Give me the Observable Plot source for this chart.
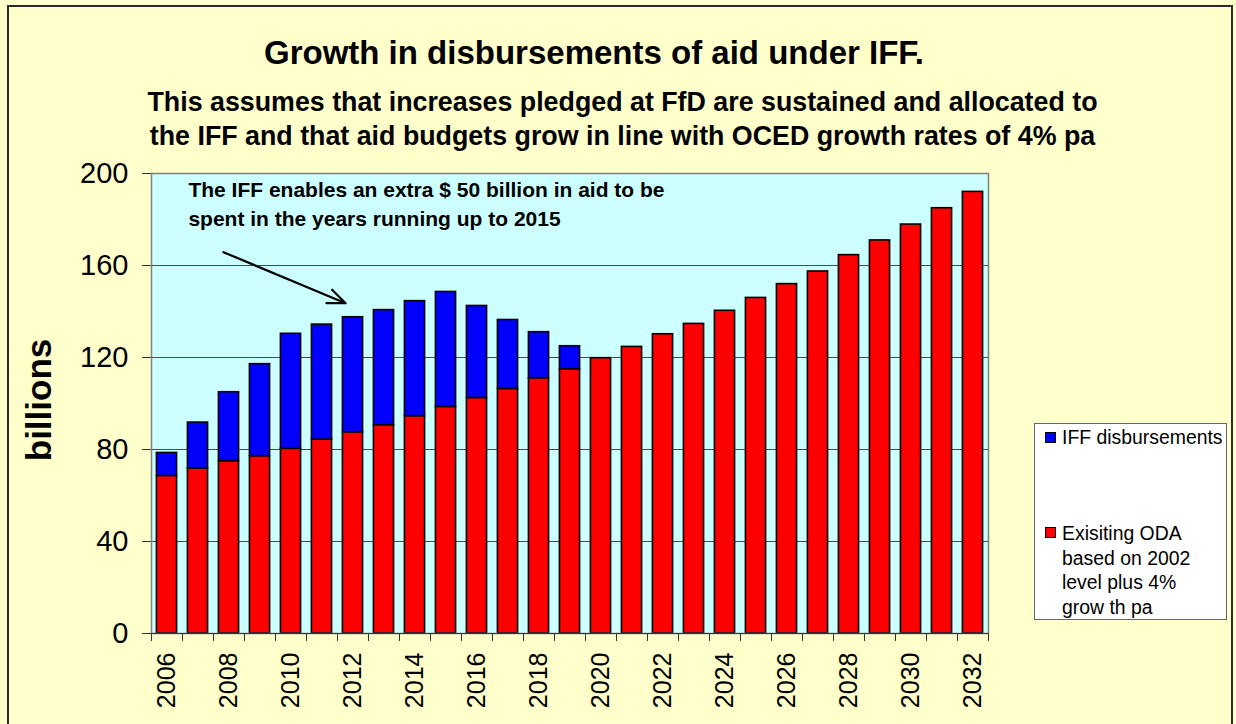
<!DOCTYPE html>
<html><head><meta charset="utf-8">
<script src="https://cdn.jsdelivr.net/npm/d3@7"></script>
<script src="https://cdn.jsdelivr.net/npm/@observablehq/plot@0.6"></script>
<style>
body{margin:0;background:#FFFFCC;}
#wrap{position:relative;width:1236px;height:724px;background:#FFFFCC;overflow:hidden;font-family:"Liberation Sans",Arial,sans-serif;color:#000;}
#frame{position:absolute;left:7px;top:5px;width:1226px;height:760px;border:2px solid #2a2a2a;box-sizing:border-box;pointer-events:none;}
#chart{position:absolute;left:0;top:0;}
.t{position:absolute;white-space:nowrap;font-weight:bold;line-height:1;}
#title{left:0;width:1188px;text-align:center;top:36px;font-size:33px;}
#sub1,#sub2{left:0;width:1245px;text-align:center;font-size:26.8px;}
#sub1{top:89px;}
#sub2{top:123px;}
#ylab{left:38px;top:400px;font-size:35px;transform:translate(-50%,-50%) rotate(-90deg);}
#legend{position:absolute;left:1034px;top:423px;width:193px;height:197px;background:#fff;border:1.5px solid #666;box-sizing:border-box;font-size:19.4px;}
.sw{position:absolute;width:9px;height:9px;border:1.5px solid #000;}
.lt{position:absolute;left:27px;line-height:24.5px;white-space:nowrap;}
</style></head>
<body>
<div id="wrap">
  <div id="chart"></div>
  <div class="t" id="title">Growth in disbursements of aid under IFF.</div>
  <div class="t" id="sub1">This assumes that increases pledged at FfD are sustained and allocated to</div>
  <div class="t" id="sub2">the IFF and that aid budgets grow in line with OCED growth rates of 4% pa</div>
  <div class="t" id="ylab">billions</div>
  <div id="legend">
    <div class="sw" style="left:10px;top:8px;background:#0000FF"></div>
    <div class="lt" style="top:1px">IFF disbursements</div>
    <div class="sw" style="left:10px;top:103px;background:#FF0000"></div>
    <div class="lt" style="top:97px">Exisiting ODA<br>based on 2002<br>level plus 4%<br>grow th pa</div>
  </div>
  <div id="frame"></div>
</div>
<script>
// ---- data ----
const years = [2006,2007,2008,2009,2010,2011,2012,2013,2014,2015,2016,2017,2018,2019,2020,2021,2022,2023,2024,2025,2026,2027,2028,2029,2030,2031,2032];
const existingODA = [68.5,71.7,74.9,77.1,80.3,84.3,87.5,90.6,94.5,98.5,102.4,106.3,111.0,114.9,119.7,124.6,130.1,134.6,140.3,145.9,151.9,157.4,164.5,170.9,177.8,184.9,192.0];
const iffDisbursements = [10,20,30,40,50,50,50,50,50,50,40,30,20,10,0,0,0,0,0,0,0,0,0,0,0,0,0];
const seriesNames = ["IFF disbursements","Exisiting ODA based on 2002 level plus 4% growth pa"];
const yTicks = [0,40,80,120,160,200];
const gridValues = [40,80,120,160];
const xTickLabels = [2006,2008,2010,2012,2014,2016,2018,2020,2022,2024,2026,2028,2030,2032];
const noteLines = ["The IFF enables an extra $ 50 billion in aid to be","spent in the years running up to 2015"];
const notePos = [{x:2006.69,y:192.6},{x:2006.69,y:180.2}];
const arrowPos = [{x1:2007.82,y1:165.8,x2:2011.76,y2:143.6}];

// ---- build table ----
const rows = [];
years.forEach((yr,i)=>{
  rows.push({year:yr, series:seriesNames[1], y1:0, y2:existingODA[i]});
  if (iffDisbursements[i] > 0) rows.push({year:yr, series:seriesNames[0], y1:existingODA[i], y2:existingODA[i]+iffDisbursements[i]});
});
const boundaries = years.map(y=>y-0.5).concat([years[years.length-1]+0.5]);
const half = 0.325;

const chart = Plot.plot({
  width:1236, height:724,
  marginLeft:151, marginRight:248, marginTop:173, marginBottom:91,
  style:{background:"transparent", fontFamily:"'Liberation Sans',Arial,sans-serif", color:"#000"},
  x:{type:"linear", domain:[years[0]-0.5, years[years.length-1]+0.5]},
  y:{domain:[0,200]},
  color:{domain:seriesNames, range:["#0000FF","#FF0000"]},
  marks:[
    Plot.frame({fill:"#CCFFFF", stroke:null}),
    Plot.ruleY(gridValues, {stroke:"#4a4a4a", strokeWidth:1}),
    Plot.rect(rows, {x1:d=>d.year-half, x2:d=>d.year+half, y1:"y1", y2:"y2", fill:"series", stroke:"#000", strokeWidth:1.6}),
    Plot.frame({stroke:"#808080", strokeWidth:1.5}),
    Plot.axisY({ticks:yTicks, tickSize:9, tickPadding:14, fontSize:29, stroke:"#333", label:null, tickFormat:d=>String(d)}),
    Plot.axisX({ticks:boundaries, tickSize:8, tickFormat:()=>"", stroke:"#333", label:null}),
    Plot.axisX({ticks:xTickLabels, tickSize:0, tickPadding:19, tickRotate:-90, fontSize:25, label:null, tickFormat:d=>String(d)}),
    Plot.ruleY([0], {stroke:"#333", strokeWidth:1}),
    Plot.text(noteLines, {x:(d,i)=>notePos[i].x, y:(d,i)=>notePos[i].y, text:d=>d, textAnchor:"start", fontSize:21, fontWeight:"bold", fill:"#000"}),
    Plot.arrow(arrowPos, {x1:"x1", y1:"y1", x2:"x2", y2:"y2", stroke:"#000", strokeWidth:2.2, headLength:13, headAngle:45})
  ]
});
document.getElementById("chart").appendChild(chart);
</script>
</body></html>
